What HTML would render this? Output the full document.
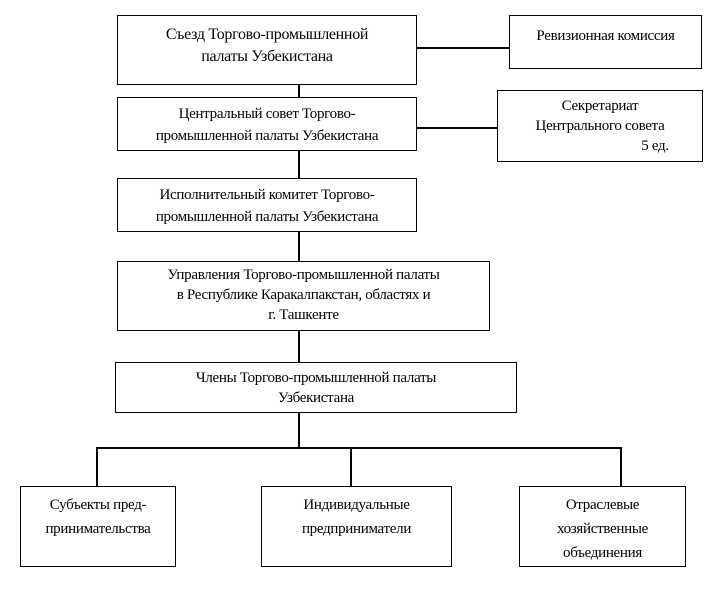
<!DOCTYPE html>
<html><head><meta charset="utf-8"><style>
body{margin:0;background:#fff;width:718px;height:593px;position:relative;overflow:hidden;font-family:"Liberation Serif",serif;font-size:15px;color:#000}
.b{position:absolute;border:1.5px solid #000;box-sizing:border-box;text-align:center;line-height:22px;letter-spacing:-0.3px;background:#fff;z-index:2}
.l{position:absolute;background:#000;z-index:1}
</style></head><body>
<div class="l" style="left:298px;top:84px;width:1.5px;height:364px"></div>
<div class="l" style="left:416px;top:47px;width:93px;height:1.5px"></div>
<div class="l" style="left:416px;top:127px;width:81px;height:1.5px"></div>
<div class="l" style="left:96px;top:447px;width:525px;height:1.5px"></div>
<div class="l" style="left:96px;top:447px;width:1.5px;height:40px"></div>
<div class="l" style="left:350px;top:447px;width:1.5px;height:40px"></div>
<div class="l" style="left:620px;top:447px;width:1.5px;height:40px"></div>

<div class="b" style="left:117px;top:15px;width:300px;height:70px;padding-top:8px;font-size:16px">Съезд Торгово-промышленной<br>палаты Узбекистана</div>
<div class="b" style="left:509px;top:15px;width:193px;height:54px;padding-top:9px">Ревизионная комиссия</div>

<div class="b" style="left:117px;top:97px;width:300px;height:54px;padding-top:5px">Центральный совет Торгово-<br>промышленной палаты Узбекистана</div>
<div class="b" style="left:497px;top:90px;width:206px;height:72px;padding-top:5px;line-height:20px">Секретариат<br>Центрального совета<br><span style="padding-left:110px">5 ед.</span></div>

<div class="b" style="left:117px;top:178px;width:300px;height:54px;padding-top:5px">Исполнительный комитет Торгово-<br>промышленной палаты Узбекистана</div>

<div class="b" style="left:117px;top:261px;width:373px;height:70px;padding-top:3px;line-height:20px">Управления Торгово-промышленной палаты<br>в Республике Каракалпакстан, областях и<br>г. Ташкенте</div>

<div class="b" style="left:115px;top:362px;width:402px;height:51px;padding-top:5px;line-height:20px">Члены Торгово-промышленной палаты<br>Узбекистана</div>

<div class="b" style="left:20px;top:486px;width:156px;height:81px;padding-top:6px;line-height:24px">Субъекты пред-<br>принимательства</div>
<div class="b" style="left:261px;top:486px;width:191px;height:81px;padding-top:6px;line-height:24px">Индивидуальные<br>предприниматели</div>
<div class="b" style="left:519px;top:486px;width:167px;height:81px;padding-top:6px;line-height:24px">Отраслевые<br>хозяйственные<br>объединения</div>
</body></html>
